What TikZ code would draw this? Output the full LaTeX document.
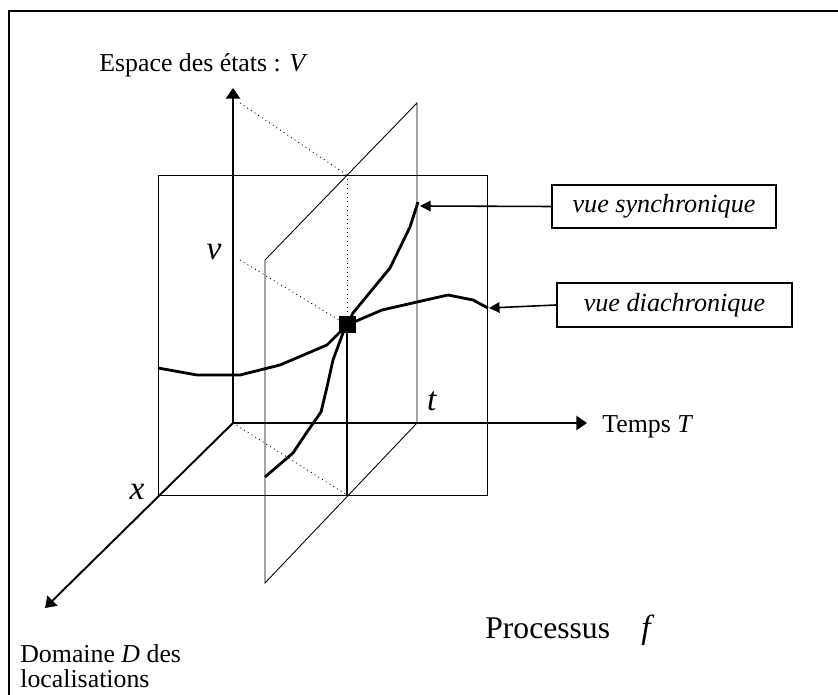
\documentclass[tikz,border=0pt]{standalone}
\usepackage{fontspec}
\setmainfont{Liberation Serif}
\usetikzlibrary{arrows.meta, positioning, calc}

\tikzset{
  planeline/.style={line width=0.5pt},
  axisline/.style={line width=1.1pt, -{Triangle[length=6pt,width=8pt]}},
  trajline/.style={line width=1.6pt, line join=round},
  viewbox/.style={draw, line width=1.1pt, inner sep=0pt, font=\itshape\fontsize{14.9}{17}\selectfont},
  callout/.style={line width=0.9pt, -{Triangle[length=6pt,width=6pt]}},
  basefont/.style={font=\fontsize{14.7}{17}\selectfont},
  bigfont/.style={font=\fontsize{19}{22}\selectfont}
}

\begin{document}
\begin{tikzpicture}[x=0.02cm, y=-0.02cm]
                \useasboundingbox (0,0) rectangle (838,695);
                % Frame
                \draw[line width=1.4pt] (9,695) -- (9,11) -- (838,11);
                % Axes
                \coordinate (O) at (233,423);
                \coordinate (Vtip) at (233,88);
                \coordinate (Ttip) at (587,423);
                \coordinate (Dtip) at (45,608);
                \draw[axisline] (O) -- (Vtip);
                \draw[axisline] (O) -- (Ttip);
                \draw[axisline] (O) -- (Dtip);
                % Plane at x (front rectangle)
                \draw[planeline] (158,175) rectangle (487,495);
                % Plane at t (synchronic cut)
                \coordinate (Pa) at (417,103);
                \coordinate (Pb) at (265,260);
                \coordinate (Pc) at (265,583);
                \coordinate (Pd) at (417,423);
                \draw[planeline] (Pa) -- (Pb) -- (Pc) -- (Pd) -- cycle;
                % Projection lines
                \coordinate (P) at (347,325);
                \coordinate (Ftop) at (347,175);
                \coordinate (Fbot) at (347,495);
                \draw[planeline, dotted] (240,103) -- (Ftop);
                \draw[planeline, dotted] (240,260) -- (P);
                \draw[planeline, dotted] (O) -- (Fbot);
                \draw[planeline, dotted] (Ftop) -- (P);
                \draw[line width=1.2pt] (P) -- (Fbot);
                % Synchronic trajectory
                \coordinate (syncend) at (418,202);
                \draw[trajline] (265,477) -- (293,453) -- (307,432) -- (321,412) -- (327,387)
                  -- (333,360) -- (343,333) -- (P) -- (353,313) -- (390,268) -- (410,227) -- (syncend);
                % Diachronic trajectory
                \coordinate (diachend) at (488,308);
                \draw[trajline] (158,368) -- (197,375) -- (240,375) -- (280,365) -- (327,345)
                  -- (P) -- (382,310) -- (417,302) -- (448,295) -- (473,300) -- (diachend);
                \fill (P) ++(-8.5,-8.5) rectangle ++(17,17);
                % Views
                \node[viewbox, minimum width=4.48cm, minimum height=0.86cm] (sync) at (664,206.5) {vue synchronique};
                \node[viewbox, minimum width=4.7cm, minimum height=0.88cm] (diach) at (674.5,305) {vue diachronique};
                \coordinate (syncarr) at (420,206);
                \coordinate (diacharr) at (489,308);
                \draw[callout] (sync.west) -- (syncarr);
                \draw[callout] (diach.west) -- (diacharr);
                % Labels
                \node[basefont, anchor=base west, inner sep=0pt] (espace) at (99,72) {Espace des états : \textit{V}};
                \node[basefont, anchor=base west, inner sep=0pt] (temps) at (602,433) {Temps \textit{T}};
                \node[bigfont, inner sep=0pt] (vval) at (214,252) {\textit{v}};
                \node[bigfont, inner sep=0pt] (tval) at (432,401) {\textit{t}};
                \node[bigfont, inner sep=0pt] (xval) at (137,492) {\textit{x}};
                \node[bigfont, anchor=base west, inner sep=0pt, font=\fontsize{18}{22}\selectfont] (proc) at (485,638) {Processus};
                \node[bigfont, anchor=base west, inner sep=0pt] (fval) at (641,638) {\textit{f}};
                \node[basefont, anchor=base west, inner sep=0pt] (domaine) at (20,662) {Domaine \textit{D} des};
                \node[basefont, anchor=base west, inner sep=0pt] (localis) at (20,687) {localisations};
            \end{tikzpicture}
\end{document}
